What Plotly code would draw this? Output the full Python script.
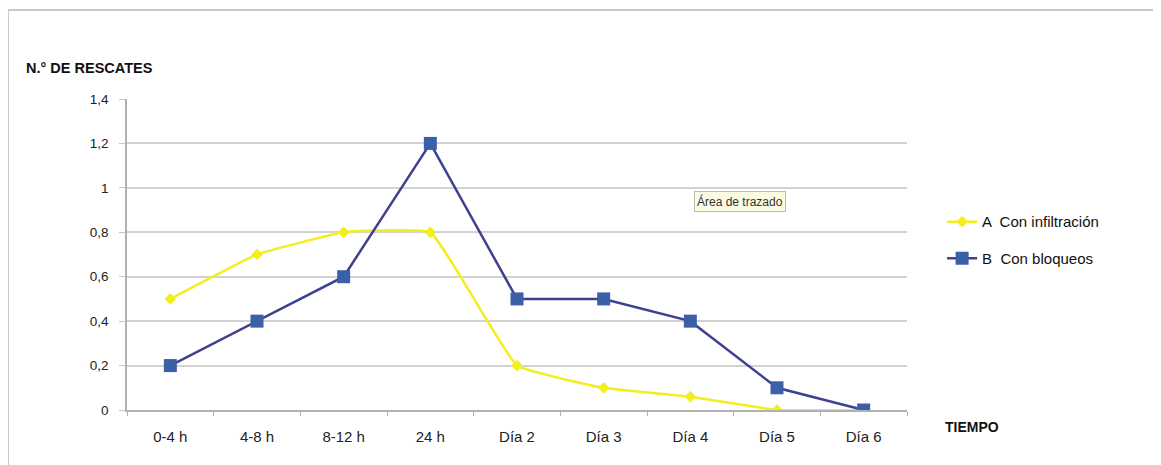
import plotly.graph_objects as go

categories = ["0-4 h", "4-8 h", "8-12 h", "24 h", "Día 2", "Día 3", "Día 4", "Día 5", "Día 6"]
serie_a = [0.5, 0.7, 0.8, 0.8, 0.2, 0.1, 0.06, 0.0, 0.0]
serie_b = [0.2, 0.4, 0.6, 1.2, 0.5, 0.5, 0.4, 0.1, 0.0]
name_a = "A  Con infiltración"
name_b = "B  Con bloqueos"
y_ticks = [0, 0.2, 0.4, 0.6, 0.8, 1.0, 1.2, 1.4]
y_ticktext = ["0", "0,2", "0,4", "0,6", "0,8", "1", "1,2", "1,4"]

fig = go.Figure()
fig.add_trace(go.Scatter(
    x=categories, y=serie_a, name=name_a, mode="lines+markers", legendgroup="a",
    line=dict(color="#f3ee1e", width=2.5, shape="spline", smoothing=0.3),
    marker=dict(color="#f3ee1e", size=9, symbol="diamond"),
))
fig.add_trace(go.Scatter(
    x=categories, y=serie_b, name=name_b, mode="lines+markers", legendgroup="b",
    line=dict(color="#3d4190", width=2.5),
    marker=dict(color="#3b60a7", size=13, symbol="square"),
))

font = "Liberation Sans, Arial, Helvetica, sans-serif"
fig.update_layout(
    width=1161, height=465,
    margin=dict(l=119, r=262, t=91, b=63),
    paper_bgcolor="white", plot_bgcolor="white",
    font=dict(family=font, size=13, color="#222"),
    showlegend=True,
    legend=dict(x=1.045, y=0.547, xanchor="left", yanchor="middle",
                font=dict(size=15, color="#111"), tracegroupgap=14,
                traceorder="grouped", bgcolor="rgba(0,0,0,0)"),
    xaxis=dict(
        type="category", tickson="boundaries", ticks="outside", ticklen=4,
        tickcolor="#b0b0b0", showline=True, linecolor="#b0b0b0", linewidth=1.5,
        showgrid=False, tickfont=dict(size=15, color="#222"),
        ticklabelstandoff=12,
        range=[-0.5, 8.5], fixedrange=True,
    ),
    yaxis=dict(
        range=[0, 1.4], tickvals=y_ticks, ticktext=y_ticktext,
        showgrid=True, gridcolor="#d2d2d2", gridwidth=1.5,
        showline=True, linecolor="#b0b0b0", linewidth=1.5,
        ticks="outside", ticklen=6, tickcolor="#c4c4c4",
        tickfont=dict(size=13.5, color="#222"), zeroline=False,
        ticklabelstandoff=8,
    ),
    shapes=[
        dict(type="rect", xref="paper", yref="paper",
             x0=-0.1526, x1=1.3205, y0=-0.23, y1=1.286,
             line=dict(color="#c8c8c8", width=2), layer="below"),
    ],
    annotations=[
        dict(text="<b>N.° DE RESCATES</b>", xref="paper", yref="paper",
             x=-0.1315, y=1.1, xanchor="left", yanchor="middle",
             showarrow=False, font=dict(size=14.5, color="#111")),
        dict(text="<b>TIEMPO</b>", xref="paper", yref="paper",
             x=1.046, y=-0.055, xanchor="left", yanchor="middle",
             showarrow=False, font=dict(size=14, color="#111")),
        dict(text="Área de trazado", xref="paper", yref="paper",
             x=0.786, y=0.672, xanchor="center", yanchor="middle",
             showarrow=False, font=dict(size=12, color="#333"),
             bgcolor="#fbfbe4", bordercolor="#bbbbaa", borderwidth=1, borderpad=2),
    ],
)

fig.write_html("out.html")
